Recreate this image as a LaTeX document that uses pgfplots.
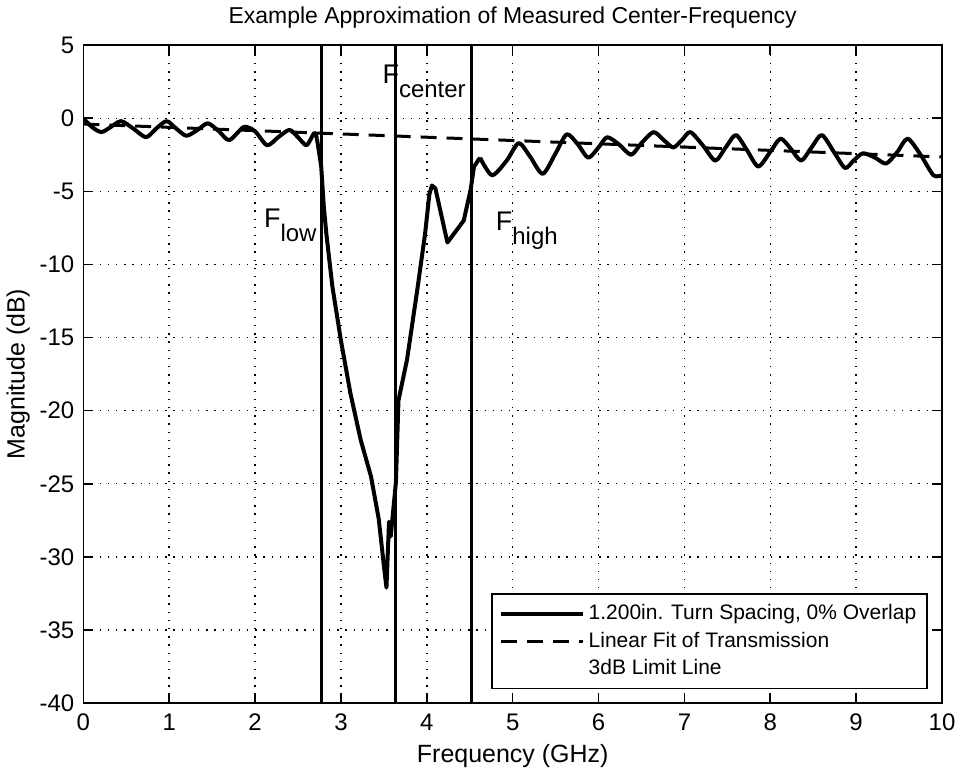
\documentclass[border=0pt]{standalone}
\usepackage{pgfplots}
\pgfplotsset{compat=1.18}
\usepackage{fontspec}
\setmainfont{Liberation Sans}
\begin{document}
\begin{tikzpicture}
\begin{axis}[
  scale only axis,
  width=430pt, height=329.5pt,
  xmin=0, xmax=10, ymin=-40, ymax=5,
  xtick={0,1,...,10}, ytick={-40,-35,...,5},
  tick align=inside,
  major tick length=5pt,
  grid=major,
  major grid style={black, line width=0.7pt, dash pattern=on 0.7pt off 3.4pt},
  axis line style={black, line width=0.8pt},
  tick style={black, line width=0.8pt},
  /pgf/number format/assume math mode=true,
  ticklabel style={font=\fontsize{12}{14}\selectfont},
  xticklabel style={yshift=-2pt},
  yticklabel style={xshift=-1pt},
  label style={font=\fontsize{12.5}{14}\selectfont},
  title style={font=\fontsize{11.5}{13}\selectfont, yshift=-1pt},
  title={Example Approximation of Measured Center-Frequency},
  xlabel={Frequency (GHz)},
  ylabel={Magnitude (dB)},
  xlabel style={yshift=0pt},
  ylabel style={yshift=-2pt},
  legend style={at={(1,0)}, anchor=south east, xshift=-7pt, yshift=7pt,
    draw=black, line width=0.8pt, font=\fontsize{10.5}{12}\selectfont,
    row sep=0.5pt, inner sep=3.5pt},
  legend cell align=left,
  legend image code/.code={\draw[#1] (0pt,0pt) -- (41pt,0pt);},
]
\addplot[black, line width=2pt, line join=round, smooth, tension=0.45] coordinates {
(0,0) (0.1,-0.6) (0.21,-0.95) (0.32,-0.6) (0.44,-0.2) (0.58,-0.7) (0.73,-1.3)
(0.85,-0.7) (0.97,-0.2) (1.08,-0.7) (1.2,-1.2) (1.33,-0.8) (1.45,-0.35)
(1.58,-0.9) (1.7,-1.5) (1.87,-0.6) (2.0,-0.9) (2.14,-1.85) (2.27,-1.3)
(2.4,-0.8) (2.5,-1.3) (2.6,-1.85) (2.69,-1.0) (2.72,-1.4)
};
\addlegendentry{1.200in. Turn Spacing, 0\% Overlap}
\addplot[black, line width=1.5pt, dash pattern=on 8pt off 5pt] coordinates {(0,-0.4) (10,-2.65)};
\addlegendentry{Linear Fit of Transmission}
\addlegendimage{legend image code/.code={}}
\addlegendentry{3dB Limit Line}
\addplot[black, line width=2pt, line join=round, forget plot] coordinates {
(2.72,-1.4) (2.75,-2.5)
(2.77,-3.3) (2.8,-6.0) (2.83,-7.9) (2.9,-11.5) (3.0,-15.2) (3.11,-18.8)
(3.23,-22.0) (3.35,-24.5) (3.44,-27.4) (3.5,-30.6) (3.53,-32.1) (3.56,-27.6)
(3.58,-28.6) (3.64,-24.9) (3.67,-19.3) (3.77,-16.5) (3.89,-11.7) (3.98,-7.9)
(4.03,-5.2) (4.06,-4.6) (4.1,-4.8) (4.24,-8.5) (4.43,-7.0) (4.51,-4.9)
(4.55,-3.3) (4.62,-2.7)
};
\addplot[black, line width=2pt, line join=round, smooth, tension=0.45, forget plot] coordinates {
(4.62,-2.7) (4.76,-3.9) (4.93,-2.9) (5.07,-1.7) (5.2,-2.6)
(5.35,-3.8) (5.5,-2.4) (5.63,-1.1) (5.76,-1.8) (5.88,-2.7) (6.0,-2.0)
(6.1,-1.3) (6.24,-1.8) (6.38,-2.5) (6.5,-1.7) (6.64,-0.95) (6.76,-1.5)
(6.87,-2.0) (6.97,-1.5) (7.07,-0.95) (7.22,-1.9) (7.36,-2.9) (7.48,-2.0)
(7.6,-1.15) (7.73,-2.2) (7.86,-3.3) (8.0,-2.3) (8.12,-1.4) (8.24,-2.1)
(8.36,-2.9) (8.48,-2.0) (8.6,-1.15) (8.74,-2.3) (8.87,-3.4) (8.97,-2.9)
(9.08,-2.4) (9.22,-2.7) (9.35,-3.1) (9.48,-2.3) (9.6,-1.4) (9.75,-2.5)
(9.9,-3.9) (10,-3.9)
};
\addplot[black, line width=1.5pt, forget plot] coordinates {(2.77,-40) (2.77,5)};
\addplot[black, line width=1.5pt, forget plot] coordinates {(3.64,-40) (3.64,5)};
\addplot[black, line width=1.5pt, forget plot] coordinates {(4.52,-40) (4.52,5)};
\node[anchor=base west, inner sep=0pt, font=\fontsize{13.5}{15}\selectfont] at (axis cs:2.1,-7.5) {F\raisebox{-7pt}{\fontsize{12}{14}\selectfont low}};
\node[anchor=base west, inner sep=0pt, font=\fontsize{13.5}{15}\selectfont] at (axis cs:3.48,2.4) {F\raisebox{-7pt}{\fontsize{12}{14}\selectfont center}};
\node[anchor=base west, inner sep=0pt, font=\fontsize{13.5}{15}\selectfont] at (axis cs:4.8,-7.65) {F\raisebox{-7pt}{\fontsize{12}{14}\selectfont high}};
\end{axis}
\end{tikzpicture}
\end{document}
